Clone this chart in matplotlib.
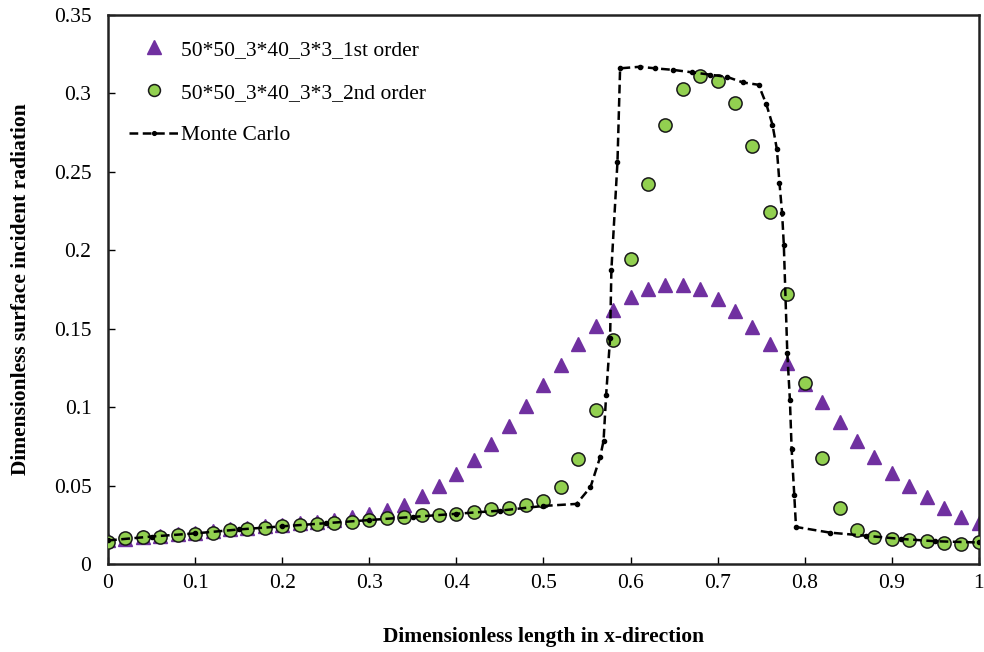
"""Surface incident radiation: 1st/2nd order schemes vs Monte Carlo."""

import matplotlib

matplotlib.use("Agg")
import matplotlib.pyplot as plt

x_grid = [round(0.02 * i, 2) for i in range(51)]

first_order = [
    0.015, 0.016, 0.017, 0.018, 0.019, 0.020, 0.021, 0.022, 0.023, 0.024,
    0.025, 0.026, 0.027, 0.028, 0.030, 0.032, 0.0344, 0.0376, 0.0434, 0.0497,
    0.0574, 0.0663, 0.0765, 0.088, 0.101, 0.114, 0.127, 0.140, 0.152, 0.162,
    0.170, 0.175, 0.178, 0.178, 0.175, 0.169, 0.161, 0.151, 0.140, 0.128,
    0.115, 0.103, 0.0906, 0.0785, 0.068, 0.058, 0.050, 0.0427, 0.0357, 0.030,
    0.026,
]

second_order = [
    0.0142, 0.0165, 0.017, 0.0175, 0.0185, 0.019, 0.020, 0.0215, 0.022, 0.023,
    0.024, 0.025, 0.0255, 0.026, 0.027, 0.028, 0.029, 0.030, 0.031, 0.031,
    0.032, 0.033, 0.035, 0.036, 0.0375, 0.0404, 0.049, 0.067, 0.098, 0.143,
    0.1945, 0.242, 0.280, 0.303, 0.311, 0.308, 0.294, 0.2665, 0.2245, 0.172,
    0.1155, 0.0675, 0.036, 0.0217, 0.0174, 0.016, 0.015, 0.0145, 0.0135, 0.0125,
    0.0137,
]

mc_x = [
    0.0, 0.05, 0.1, 0.15, 0.2, 0.25, 0.3, 0.35, 0.4, 0.45, 0.5, 0.538, 0.554,
    0.565, 0.569, 0.572, 0.5765, 0.578, 0.585, 0.588, 0.611, 0.628, 0.649,
    0.670, 0.691, 0.711, 0.729, 0.747, 0.756, 0.763, 0.768, 0.771, 0.774,
    0.776, 0.780, 0.783, 0.785, 0.788, 0.790, 0.829, 0.87, 0.91, 0.95, 1.0,
]
mc_y = [
    0.015, 0.0175, 0.0195, 0.022, 0.024, 0.026, 0.028, 0.030, 0.032, 0.034,
    0.037, 0.0383, 0.049, 0.068, 0.0785, 0.108, 0.144, 0.1875, 0.2565, 0.316,
    0.317, 0.316, 0.315, 0.3135, 0.312, 0.3105, 0.307, 0.3055, 0.293, 0.280,
    0.2645, 0.243, 0.224, 0.2035, 0.1345, 0.1045, 0.073, 0.044, 0.0236, 0.020,
    0.018, 0.016, 0.0145, 0.0137,
]

x_ticks = [0, 0.1, 0.2, 0.3, 0.4, 0.5, 0.6, 0.7, 0.8, 0.9, 1]
x_ticklabels = ["0", "0.1", "0.2", "0.3", "0.4", "0.5", "0.6", "0.7", "0.8", "0.9", "1"]
y_ticks = [0, 0.05, 0.1, 0.15, 0.2, 0.25, 0.3, 0.35]
y_ticklabels = ["0", "0.05", "0.1", "0.15", "0.2", "0.25", "0.3", "0.35"]

plt.rcParams["font.family"] = ["Liberation Serif", "DejaVu Serif"]

fig = plt.figure(figsize=(9.84, 6.52), dpi=100)
ax = fig.add_axes([0.1098, 0.135, 0.885, 0.842])

ax.plot(x_grid, first_order, linestyle="none", marker="^", markersize=10.5,
        color="#7030A0", label="50*50_3*40_3*3_1st order", zorder=2)
ax.plot(x_grid, second_order, linestyle="none", marker="o", markersize=9.5,
        markerfacecolor="#92D050", markeredgecolor="#1a1a1a", markeredgewidth=1.1,
        label="50*50_3*40_3*3_2nd order", zorder=3)
ax.plot(mc_x, mc_y, color="black", linewidth=1.8, linestyle=(0, (3.5, 1.8)),
        marker="o", markersize=3, label="Monte Carlo", zorder=4)

ax.set_xlim(0, 1)
ax.set_ylim(0, 0.35)
ax.set_xticks(x_ticks)
ax.set_xticklabels(x_ticklabels)
ax.set_yticks(y_ticks)
ax.set_yticklabels(y_ticklabels)
ax.tick_params(axis="both", direction="in", length=5, width=1, labelsize=15.5)
ax.tick_params(axis="x", pad=7)
ax.tick_params(axis="y", pad=12)
for spine in ax.spines.values():
    spine.set_linewidth(1.8)
    spine.set_color("#222222")

ax.set_xlabel("Dimensionless length in x-direction", fontsize=15.5,
              fontweight="bold", labelpad=25)
ax.set_ylabel("Dimensionless surface incident radiation", fontsize=15.5,
              fontweight="bold", labelpad=16)

ax.legend(loc="upper left", bbox_to_anchor=(0.002, 0.99), frameon=False,
          fontsize=15.5, handlelength=2.3, labelspacing=1.05, handletextpad=0.1,
          markerscale=0.9)

fig.savefig("out.png", dpi=100)
